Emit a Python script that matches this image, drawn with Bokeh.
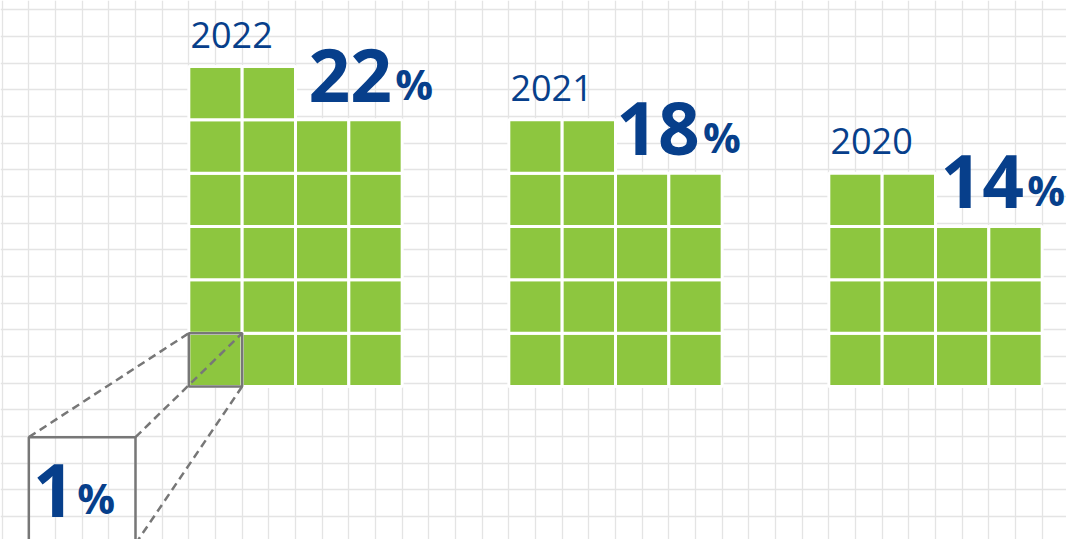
import numpy as np
from bokeh.plotting import figure
from bokeh.models import Range1d, Grid, FixedTicker
from bokeh.core.properties import value
from bokeh.embed import file_html
from bokeh.resources import INLINE

# ---- data ----
years = ["2022", "2021", "2020"]
shares = [22, 18, 14]          # percent, one square = 1 %
callout_text = "1"

# ---- layout ----
COLS = 4
block_x = [3, 9, 15]           # left column of each block (grid units)
pct_dx = [3.87, 3.64, 3.72]    # where the "%" sign starts, relative to block
GREEN = "#8DC63F"
BLUE = "#073F8B"
GREY = "#777777"
U = 53.333                     # px per grid unit

W, H = 1066, 539
x0 = 3 - 188.33 / U
y0 = -(H - 386) / U
p = figure(width=W, height=H, output_backend="svg", toolbar_location=None,
           x_axis_type=None, y_axis_type=None, min_border=0,
           x_range=Range1d(x0, x0 + W / U),
           y_range=Range1d(y0, y0 + H / U))
p.outline_line_color = None
p.background_fill_color = "white"
p.border_fill_color = "white"
p.grid.visible = False

# background grid paper
xt = list(np.arange(-1.0, 21.0, 0.5))
yt = list(np.arange(-3.5, 8.0, 0.5) + 0.0625)
p.add_layout(Grid(dimension=0, ticker=FixedTicker(ticks=xt),
                  grid_line_color="#E4E4E4", grid_line_width=1.3))
p.add_layout(Grid(dimension=1, ticker=FixedTicker(ticks=yt),
                  grid_line_color="#E4E4E4", grid_line_width=1.3))

# squares
cx, cy = [], []
for bx, v in zip(block_x, shares):
    for i in range(v):
        cx.append(bx + (i % COLS) + 0.5)
        cy.append((i // COLS) + 0.5)
p.rect(x=cx, y=cy, width=1, height=1, fill_color=GREEN,
       line_color="white", line_width=3)

# year labels and percentages
tops = [int(np.ceil(v / COLS)) for v in shares]
p.text(x=[bx + 0.03 for bx in block_x], y=[t + 0.60 for t in tops], text=years,
       text_font=value("Open Sans"), text_font_size="36px",
       text_color=BLUE, text_baseline="alphabetic", text_align="left")
p.text(x=[bx + d - 0.06 for bx, d in zip(block_x, pct_dx)], y=[t - 0.165 for t in tops],
       text=[str(v) for v in shares],
       text_font=value("Open Sans"), text_font_style="bold", text_font_size="73px",
       text_color=BLUE, text_baseline="alphabetic", text_align="right")
p.text(x=[bx + d for bx, d in zip(block_x, pct_dx)], y=[t - 0.31 for t in tops],
       text=["%"] * len(shares),
       text_font=value("Open Sans"), text_font_style="bold", text_font_size="42px",
       text_color=BLUE, text_baseline="alphabetic", text_align="left")

# callout: highlighted single square and magnified box
cell_x, cell_y = block_x[0], 0
p.rect(x=[cell_x + 0.5], y=[cell_y + 0.5], width=1, height=1,
       fill_color=None, line_color=GREY, line_width=2.5)
box_l, box_r, box_t, box_b = 0.0, 2.0, -0.95, -2.95
p.quad(left=[box_l], right=[box_r], top=[box_t], bottom=[box_b],
       fill_color=None, line_color=GREY, line_width=2.5)
p.segment(x0=[box_l, box_r, box_r], y0=[box_t, box_t, box_b],
          x1=[cell_x, cell_x + 1, cell_x + 1], y1=[cell_y + 1, cell_y + 1, cell_y],
          line_color=GREY, line_width=2.5, line_dash="8 5")
p.text(x=[0.86], y=[-1.95], text=[callout_text],
       text_font=value("Open Sans"), text_font_style="bold", text_font_size="73px",
       text_color=BLUE, text_baseline="alphabetic", text_align="right")
p.text(x=[0.91], y=[-2.09], text=["%"],
       text_font=value("Open Sans"), text_font_style="bold", text_font_size="42px",
       text_color=BLUE, text_baseline="alphabetic", text_align="left")

open("out.html", "w").write(file_html(p, INLINE))
